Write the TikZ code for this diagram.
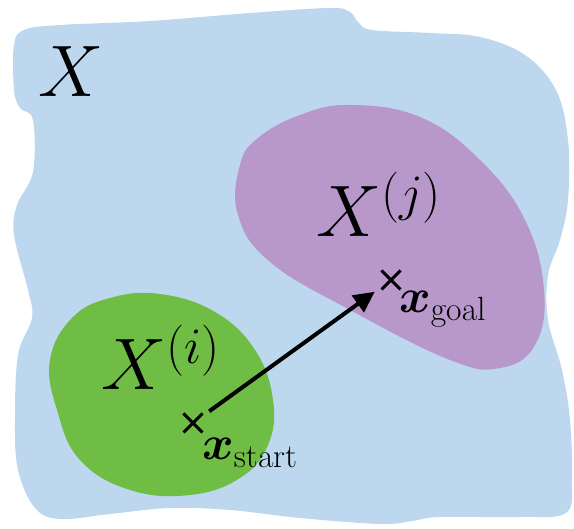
\RequirePackage{fix-cm}
\documentclass[tikz,border=0pt]{standalone}
\usepackage{amsmath}
\usepackage{bm}
\usetikzlibrary{arrows.meta,shapes.misc}
\definecolor{spaceblue}{RGB}{189, 215, 238}
\definecolor{regionpurple}{RGB}{184, 152, 203}
\definecolor{regiongreen}{RGB}{112, 189, 69}

\begin{document}
\begin{tikzpicture}[
    x=1pt, y=-1pt,
    region/.style={fill=#1, draw=none},
    ptmark/.style={cross out, draw=black, line width=3pt, minimum size=16pt, inner sep=0pt},
    setlabel/.style={inner sep=0pt, anchor=base west, font=\fontsize{73}{80}\selectfont},
    ptlabel/.style={inner sep=0pt, anchor=base west, font=\fontsize{48}{56}\selectfont},
    pathline/.style={line width=4pt, -{Triangle[length=21pt, width=20pt]}, shorten <=20pt, shorten >=20pt}
]
    \useasboundingbox (0, 0) rectangle (574, 529);

    % State space X
    \fill[region=spaceblue] plot[smooth cycle, tension=0.6] coordinates {
        (14, 45) (24, 30) (60, 25) (150, 21) (250, 13) (330, 8) (350, 12) (358, 22)
        (372, 30) (430, 33) (480, 37) (525, 55) (556, 90) (568, 140) (568, 200)
        (560, 240) (548, 275) (548, 320) (562, 370) (570, 420) (572, 480) (566, 513)
        (520, 517) (440, 517) (412, 521) (380, 524) (300, 518) (230, 510) (170, 508)
        (110, 514) (60, 519) (35, 508) (18, 470) (15, 420) (18, 355) (32, 318)
        (28, 290) (14, 235) (17, 205) (33, 172) (33, 120) (20, 108) (14, 90)};

    % Region X^(j)
    \fill[region=regionpurple] plot[smooth cycle, tension=0.7] coordinates {
        (240, 165) (258, 138) (300, 115) (350, 105) (420, 117) (480, 160) (525, 220)
        (544, 290) (535, 345) (500, 368) (450, 360) (350, 310) (270, 262) (238, 215)};

    % Region X^(i)
    \fill[region=regiongreen] plot[smooth cycle, tension=0.7] coordinates {
        (50, 360) (72, 318) (110, 298) (160, 294) (215, 312) (255, 350) (273, 400)
        (268, 445) (240, 478) (190, 495) (130, 490) (80, 460) (57, 410)};

    % Start and goal points
    \node[ptmark] (start) at (193, 423) {};
    \node[ptmark] (goal)  at (391, 280) {};

    \draw[pathline] (start.center) -- (goal.center);

    % Labels
    \node[setlabel] (lblX)  at (38, 97)   {$X$};
    \node[setlabel] (lblXi) at (101, 390) {$X^{(i)}$};
    \node[setlabel] (lblXj) at (316, 237) {$X^{(j)}$};
    \node[ptlabel] (lblstart) at (202, 460) {$\bm{x}_{\mathrm{start}}$};
    \node[ptlabel] (lblgoal)  at (399, 313) {$\bm{x}_{\mathrm{goal}}$};

\end{tikzpicture}
\end{document}
